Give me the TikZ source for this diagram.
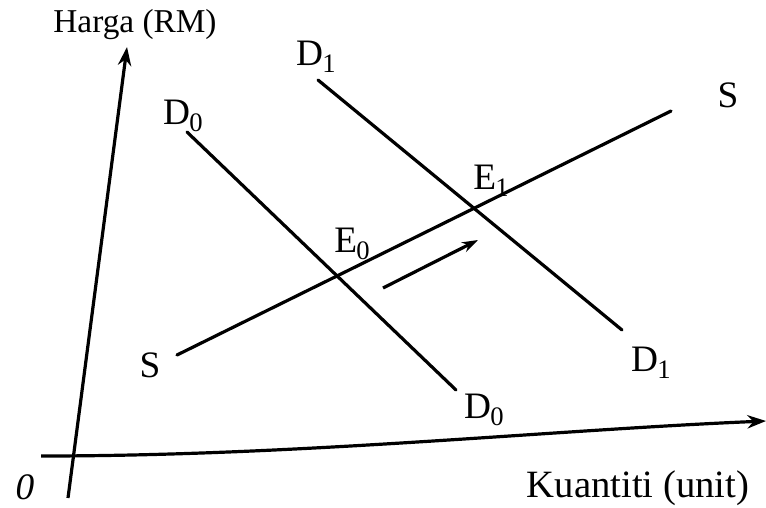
\documentclass[tikz,border=0pt]{standalone}
\usepackage{fontspec}
\setmainfont{Liberation Serif}
\usetikzlibrary{arrows.meta}
\newcommand{\sbs}[1]{\kern-0.5pt\raisebox{-0.4ex}{\fontsize{20}{20}\selectfont #1}}
\begin{document}
\begin{tikzpicture}[x=0.75pt,y=-0.75pt,
  curve/.style={line width=2.4pt,line cap=round},
  lbl/.style={font=\fontsize{28}{30}\selectfont,inner sep=0pt},
  ax/.style={line width=2.4pt,-{Stealth[length=14pt,width=10pt]}}]
\useasboundingbox (0,0) rectangle (766,507);
% axes
\coordinate (yb) at (68,498);
\coordinate (yt) at (127,47);
\coordinate (xl) at (41,456);
\coordinate (xr) at (766,421);
\draw[ax] (yb) -- (yt);
\draw[ax] (xl) .. controls (300,456) and (550,430) .. (xr);
% lines
\coordinate (d0a) at (187,132);
\coordinate (d0b) at (456,390);
\coordinate (d1a) at (318,80);
\coordinate (d1b) at (622,330);
\coordinate (sa) at (177,355);
\coordinate (sb) at (671,111);
\draw[curve] (d0a) -- (d0b);
\draw[curve] (d1a) -- (d1b);
\draw[curve] (sa) -- (sb);
% shift arrow
\coordinate (ar1) at (383,288);
\coordinate (ar2) at (478,240);
\draw[line width=2.4pt,-{Stealth[length=12pt,width=8pt]}] (ar1) -- (ar2);
% labels
\node[lbl] (hy) at (135,25) {\fontsize{25}{28}\selectfont Harga (RM)};
\node[lbl] (hx) at (638,488) {\fontsize{29}{30}\selectfont Kuantiti (unit)};
\node[lbl] (o) at (25,487) {\itshape 0};
\node[lbl] (ld0t) at (183,116) {D\sbs{0}};
\node[lbl] (ld1t) at (316,57) {D\sbs{1}};
\node[lbl] (ld0b) at (484,410) {D\sbs{0}};
\node[lbl] (ld1b) at (651,363) {D\sbs{1}};
\node[lbl] (lst) at (728,95) {S};
\node[lbl] (lsb) at (150,365) {S};
\node[lbl] (le0) at (352,244) {E\sbs{0}};
\node[lbl] (le1) at (491,181) {E\sbs{1}};
\end{tikzpicture}
\end{document}
